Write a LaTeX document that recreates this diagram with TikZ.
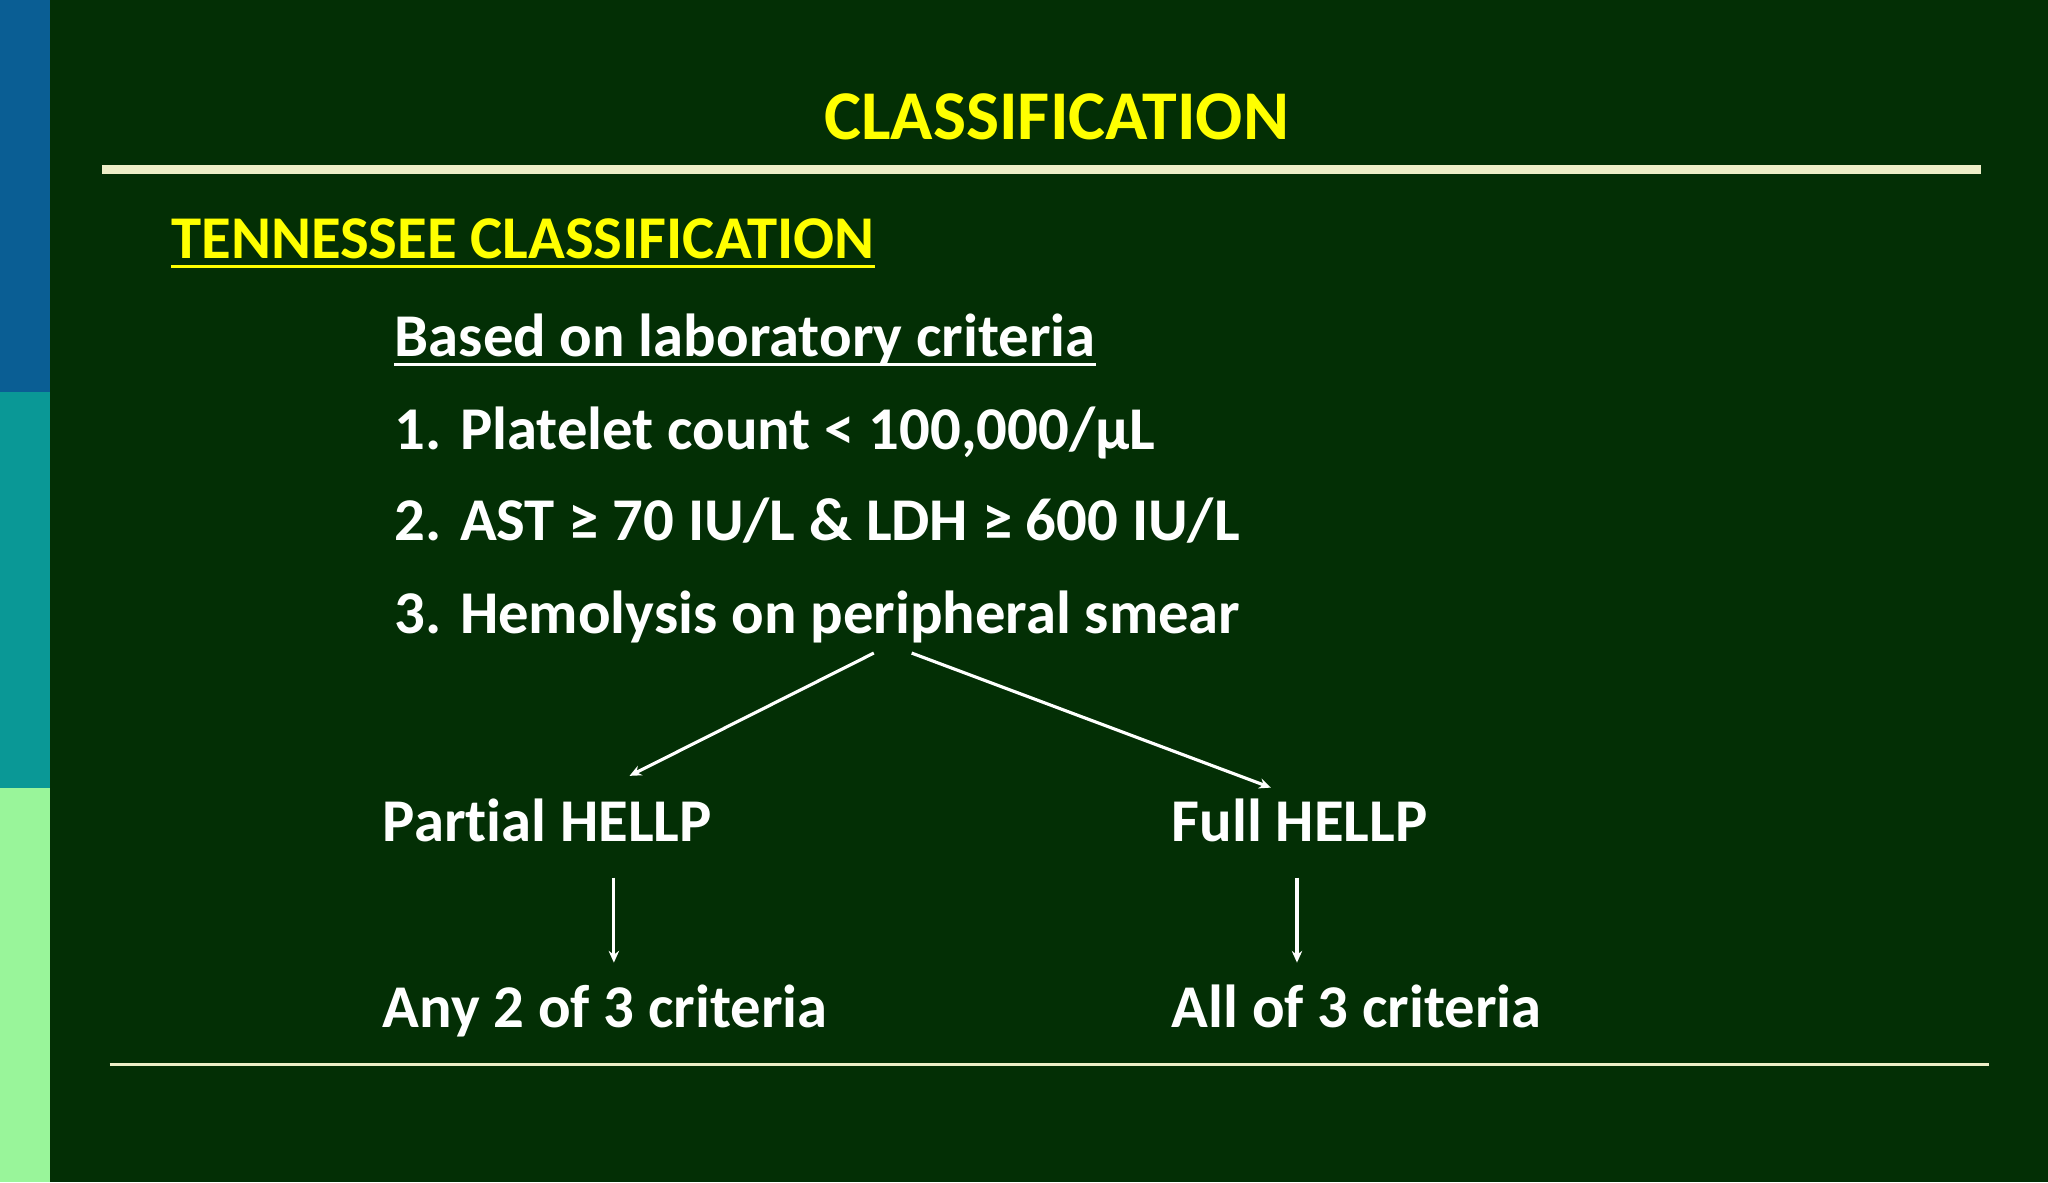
\documentclass[tikz,border=0pt]{standalone}
\usepackage{fontspec}
\setmainfont[Ligatures=NoCommon]{Carlito}
\usetikzlibrary{arrows.meta}
\definecolor{bg}{HTML}{032F05}
\definecolor{ttl}{HTML}{FFFF00}
\definecolor{lnc}{HTML}{EEEEC8}
\definecolor{barA}{HTML}{0A5E94}
\definecolor{barB}{HTML}{0A9896}
\definecolor{barC}{HTML}{99F59A}
\tikzset{x=1pt,y=-1pt,
 body/.style={anchor=base west,text=white,font=\fontsize{46.5}{50}\selectfont\bfseries,inner sep=0},
 arr/.style={draw=white,line width=2.4pt,-{Stealth[length=9pt,width=8pt]}}}
\begin{document}
\begin{tikzpicture}
\fill[bg] (0,0) rectangle (1568,905);
\useasboundingbox (0,0) rectangle (1568,905);
\fill[barA] (0,0) rectangle (38,300);
\fill[barB] (0,300) rectangle (38,603);
\fill[barC] (0,603) rectangle (38,905);
\draw[lnc,line width=7pt] (78,130) -- (1517,130);
\draw[lnc,line width=2pt] (84,815) -- (1523,815);
\node[anchor=base,text=ttl,font=\fontsize{53.5}{56}\selectfont\bfseries,inner sep=0] (t) at (809,107) {CLASSIFICATION};
\node[body,text=ttl,font=\fontsize{46.5}{50}\selectfont\bfseries] (s) at (131,198) {TENNESSEE CLASSIFICATION};
\draw[ttl,line width=2pt] ([yshift=-6pt]s.base west) -- ([yshift=-6pt]s.base east);
\node[body] (b) at (302,273) {Based on laboratory criteria};
\draw[white,line width=2pt] ([yshift=-6pt]b.base west) -- ([yshift=-6pt]b.base east);
\node[body] (c1) at (302,344) {1. Platelet count < 100,000/µL};
\node[body] (c2) at (302,414) {2. AST ≥ 70 IU/L \& LDH ≥ 600 IU/L};
\node[body] (c3) at (302,485) {3. Hemolysis on peripheral smear};
\node[body] (p) at (293,644) {Partial HELLP};
\node[body] (f) at (897,644) {Full HELLP};
\node[body] (pa) at (293,787) {Any 2 of 3 criteria};
\node[body] (fa) at (897,787) {All of 3 criteria};
\coordinate (a1) at (669,500); \coordinate (a2) at (482,594);
\coordinate (b1) at (698,500); \coordinate (b2) at (973,603);
\coordinate (p1) at (470,672); \coordinate (p2) at (470,737);
\coordinate (f1) at (993,672); \coordinate (f2) at (993,737);
\draw[arr] (a1) -- (a2);
\draw[arr] (b1) -- (b2);
\draw[arr] (p1) -- (p2);
\draw[arr] (f1) -- (f2);
\end{tikzpicture}
\end{document}
